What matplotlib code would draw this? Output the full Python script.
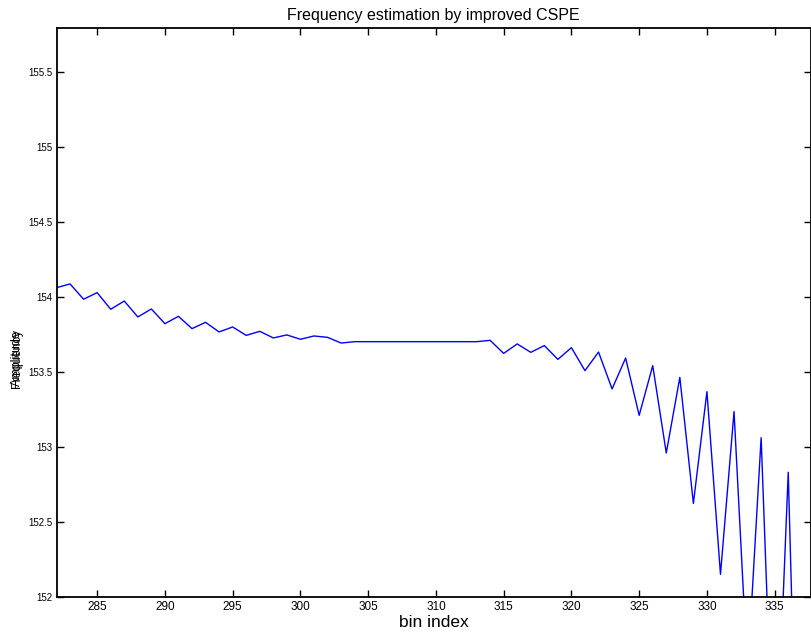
import matplotlib
matplotlib.use("Agg")
import matplotlib.pyplot as plt
from matplotlib.ticker import FormatStrFormatter

plt.rcParams['font.family'] = ['Liberation Sans', 'DejaVu Sans']

# bin index and estimated frequency
bins = list(range(282, 338))
freq = [154.062, 154.087, 153.985, 154.029, 153.918, 153.973, 153.867, 153.920,
        153.822, 153.871, 153.789, 153.831, 153.767, 153.800, 153.744, 153.771,
        153.727, 153.747, 153.718, 153.740, 153.731, 153.693, 153.702, 153.702,
        153.702, 153.702, 153.702, 153.702, 153.702, 153.702, 153.702, 153.702,
        153.711, 153.624, 153.687, 153.631, 153.676, 153.584, 153.662, 153.509,
        153.633, 153.387, 153.593, 153.211, 153.542, 152.960, 153.464, 152.624,
        153.369, 152.151, 153.236, 151.490, 153.062, 150.600, 152.831, 149.500]

x_ticks = [285, 290, 295, 300, 305, 310, 315, 320, 325, 330, 335]
y_ticks = [152, 152.5, 153, 153.5, 154, 154.5, 155, 155.5]

fig = plt.figure(figsize=(8.11, 6.41), dpi=100)
ax = fig.add_axes([56.5 / 811, 44 / 641, (811 - 56.5) / 811, (597 - 28) / 641])

ax.plot(bins, freq, color='blue', linewidth=1.0)

ax.set_xlim(282, 337.68)
ax.set_ylim(152, 155.793)
ax.set_xticks(x_ticks)
ax.set_yticks(y_ticks)
ax.yaxis.set_major_formatter(FormatStrFormatter('%g'))
ax.tick_params(direction='in', length=5, width=1, top=True, right=True, pad=3)
ax.tick_params(axis='x', labelsize=8.5)
ax.tick_params(axis='y', labelsize=7)
for s in ax.spines.values():
    s.set_linewidth(1.3)

ax.set_title('Frequency estimation by improved CSPE', fontsize=11.5, pad=6)
ax.set_xlabel('bin index', fontsize=12.5, labelpad=1)

# two y labels drawn on top of each other, as in the original
fig.text(17 / 811, 1 - 358 / 641, 'Frequency', rotation=90, ha='center', va='center', fontsize=9)
fig.text(17 / 811, 1 - 358 / 641, 'Amplitude', rotation=90, ha='center', va='center', fontsize=9)

fig.savefig('out.png', dpi=100)
